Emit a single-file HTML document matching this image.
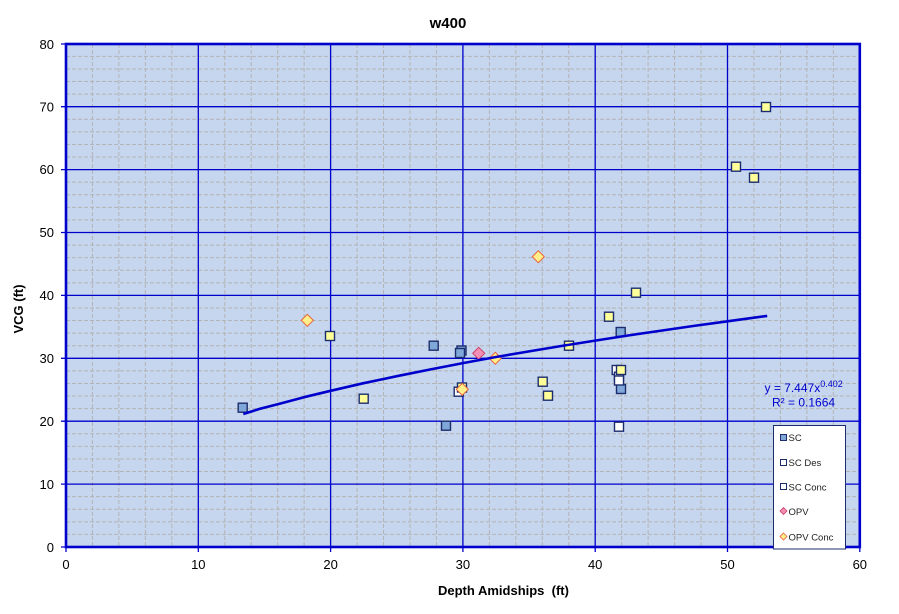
<!DOCTYPE html>
<html><head><meta charset="utf-8"><style>
html,body{margin:0;padding:0;background:#fff;}
svg{display:block;font-family:"Liberation Sans",Arial,sans-serif;}
</style></head><body>
<svg width="899" height="614" viewBox="0 0 899 614" xmlns="http://www.w3.org/2000/svg">
<rect x="0" y="0" width="899" height="614" fill="#fff"/>
<text x="448" y="28" font-size="15" font-weight="bold" text-anchor="middle" fill="#000">w400</text>
<!-- plot area -->
<rect x="66" y="44" width="793.8" height="503" fill="#c6d6ee"/>
<!-- minor grid -->
<g stroke="#b4b4b4" stroke-width="1" stroke-dasharray="4,2" fill="none">
<path d="M92.46 44V547M118.92 44V547M145.38 44V547M171.84 44V547M224.76 44V547M251.22 44V547M277.68 44V547M304.14 44V547M357.06 44V547M383.52 44V547M409.98 44V547M436.44 44V547M489.36 44V547M515.82 44V547M542.28 44V547M568.74 44V547M621.66 44V547M648.12 44V547M674.58 44V547M701.04 44V547M753.96 44V547M780.42 44V547M806.88 44V547M833.34 44V547"/>
<path d="M66 534.42H860M66 521.84H860M66 509.26H860M66 496.68H860M66 471.52H860M66 458.94H860M66 446.36H860M66 433.78H860M66 408.62H860M66 396.04H860M66 383.46H860M66 370.88H860M66 345.72H860M66 333.14H860M66 320.56H860M66 307.98H860M66 282.82H860M66 270.24H860M66 257.66H860M66 245.08H860M66 219.92H860M66 207.34H860M66 194.76H860M66 182.18H860M66 157.02H860M66 144.44H860M66 131.86H860M66 119.28H860M66 94.12H860M66 81.54H860M66 68.96H860M66 56.38H860"/>
</g>
<!-- major grid -->
<g stroke="#0000cc" stroke-width="1.3" fill="none">
<path d="M198.3 44V547M330.6 44V547M462.9 44V547M595.2 44V547M727.5 44V547"/>
<path d="M66 484.1H860M66 421.2H860M66 358.3H860M66 295.4H860M66 232.5H860M66 169.6H860M66 106.7H860"/>
</g>
<!-- border -->
<rect x="66" y="44" width="793.8" height="503" fill="none" stroke="#0000cc" stroke-width="2.6"/>
<!-- ticks -->
<g stroke="#0000cc" stroke-width="1.3">
<path d="M61 547H66M61 484.1H66M61 421.2H66M61 358.3H66M61 295.4H66M61 232.5H66M61 169.6H66M61 106.7H66M61 44H66"/>
<path d="M66 547V552M198.3 547V552M330.6 547V552M462.9 547V552M595.2 547V552M727.5 547V552M859.8 547V552"/>
</g>
<!-- y labels -->
<g font-size="13" fill="#000" text-anchor="end">
<text x="54" y="552">0</text>
<text x="54" y="489">10</text>
<text x="54" y="426">20</text>
<text x="54" y="363">30</text>
<text x="54" y="300">40</text>
<text x="54" y="237">50</text>
<text x="54" y="174">60</text>
<text x="54" y="111.5">70</text>
<text x="54" y="49">80</text>
</g>
<!-- x labels -->
<g font-size="13" fill="#000" text-anchor="middle">
<text x="66" y="569">0</text>
<text x="198.3" y="569">10</text>
<text x="330.6" y="569">20</text>
<text x="462.9" y="569">30</text>
<text x="595.2" y="569">40</text>
<text x="727.5" y="569">50</text>
<text x="859.8" y="569">60</text>
</g>
<text x="438" y="595" font-size="13" font-weight="bold" fill="#000" style="white-space:pre">Depth Amidships  (ft)</text>
<text transform="translate(23,309) rotate(-90)" font-size="13" font-weight="bold" fill="#000" text-anchor="middle">VCG (ft)</text>

<!-- SC (blue) -->
<g fill="#7fa7d8" stroke="#1c2d6e" stroke-width="1.4">
<rect x="238.2" y="403.2" width="9" height="9"/>
<rect x="429.2" y="341.2" width="9" height="9"/>
<rect x="457" y="346" width="9" height="9"/>
<rect x="455.5" y="348.5" width="9" height="9"/>
<rect x="441.5" y="421.2" width="9" height="9"/>
<rect x="616.2" y="327.5" width="9" height="9"/>
<rect x="616.5" y="384.5" width="9" height="9"/>
</g>
<!-- SC Des (white) -->
<g fill="#ffffff" stroke="#1c2d6e" stroke-width="1.4">
<rect x="614.5" y="422.2" width="9" height="9"/>
<rect x="612.2" y="365.5" width="9" height="9"/>
<rect x="614.5" y="372.2" width="9" height="9"/>
<rect x="614.5" y="376" width="9" height="9"/>
<rect x="454.2" y="387.2" width="9" height="9"/>
</g>
<!-- SC Conc (yellow) -->
<g fill="#ffff99" stroke="#1c2d6e" stroke-width="1.4">
<rect x="761.5" y="102.5" width="9" height="9"/>
<rect x="731.5" y="162.2" width="9" height="9"/>
<rect x="749.5" y="173.2" width="9" height="9"/>
<rect x="631.5" y="288.2" width="9" height="9"/>
<rect x="604.5" y="312.2" width="9" height="9"/>
<rect x="564.5" y="341.2" width="9" height="9"/>
<rect x="325.5" y="331.5" width="9" height="9"/>
<rect x="359.2" y="394.2" width="9" height="9"/>
<rect x="538.2" y="377.2" width="9" height="9"/>
<rect x="543.5" y="391.2" width="9" height="9"/>
<rect x="616.5" y="365.5" width="9" height="9"/>
<rect x="457.5" y="383" width="9" height="9"/>
</g>
<!-- OPV -->
<path d="M478.7 347.3L484.7 353.3L478.7 359.3L472.7 353.3Z" fill="#f28fb5" stroke="#d0406a" stroke-width="1"/>
<!-- OPV Conc -->
<g fill="#ffef8a" stroke="#e8603a" stroke-width="1">
<path d="M307.3 314.3L313.3 320.3L307.3 326.3L301.3 320.3Z"/>
<path d="M538.3 250.7L544.3 256.7L538.3 262.7L532.3 256.7Z"/>
<path d="M495.3 352.3L501.3 358.3L495.3 364.3L489.3 358.3Z"/>
<path d="M462.3 383.3L468.3 389.3L462.3 395.3L456.3 389.3Z"/>
</g>
<!-- trendline -->
<polyline fill="none" stroke="#0000cc" stroke-width="2.6" stroke-linejoin="round" points="243.3,414.0 260,408.8 277.7,404.2 304,397.2 330.6,390.8 363,383.3 396.8,376.2 430,369.5 462.9,363.1 496,357.0 529.1,351.4 562,345.9 595.2,340.6 628,335.5 661.4,330.6 694,325.9 727.5,321.3 767.2,315.9"/>
<!-- equation -->
<text x="764.5" y="392" font-size="12" fill="#0000cc">y = 7.447x<tspan font-size="9" dy="-5">0.402</tspan></text>
<text x="772" y="406.5" font-size="12" fill="#0000cc">R² = 0.1664</text>
<!-- legend -->
<rect x="773.5" y="425.5" width="72" height="123.5" fill="#fff" stroke="#1c2d6e" stroke-width="1"/>
<g font-size="9.5" fill="#222">
<rect x="780.5" y="434.5" width="6" height="6" fill="#7fa7d8" stroke="#1c2d6e" stroke-width="1"/>
<text x="788.5" y="441">SC</text>
<rect x="780.5" y="459.5" width="6" height="6" fill="#fff" stroke="#1c2d6e" stroke-width="1"/>
<text x="788.5" y="466">SC Des</text>
<rect x="780.5" y="483.5" width="6" height="6" fill="#fff" stroke="#1c2d6e" stroke-width="1"/>
<text x="788.5" y="490.5">SC Conc</text>
<path d="M783.5 507.5L787 511L783.5 514.5L780 511Z" fill="#f28fb5" stroke="#d0406a" stroke-width="0.8"/>
<text x="788.5" y="515">OPV</text>
<path d="M783.5 533L787 536.5L783.5 540L780 536.5Z" fill="#ffef8a" stroke="#e8603a" stroke-width="0.8"/>
<text x="788.5" y="540.5">OPV Conc</text>
</g>
</svg>
</body></html>
